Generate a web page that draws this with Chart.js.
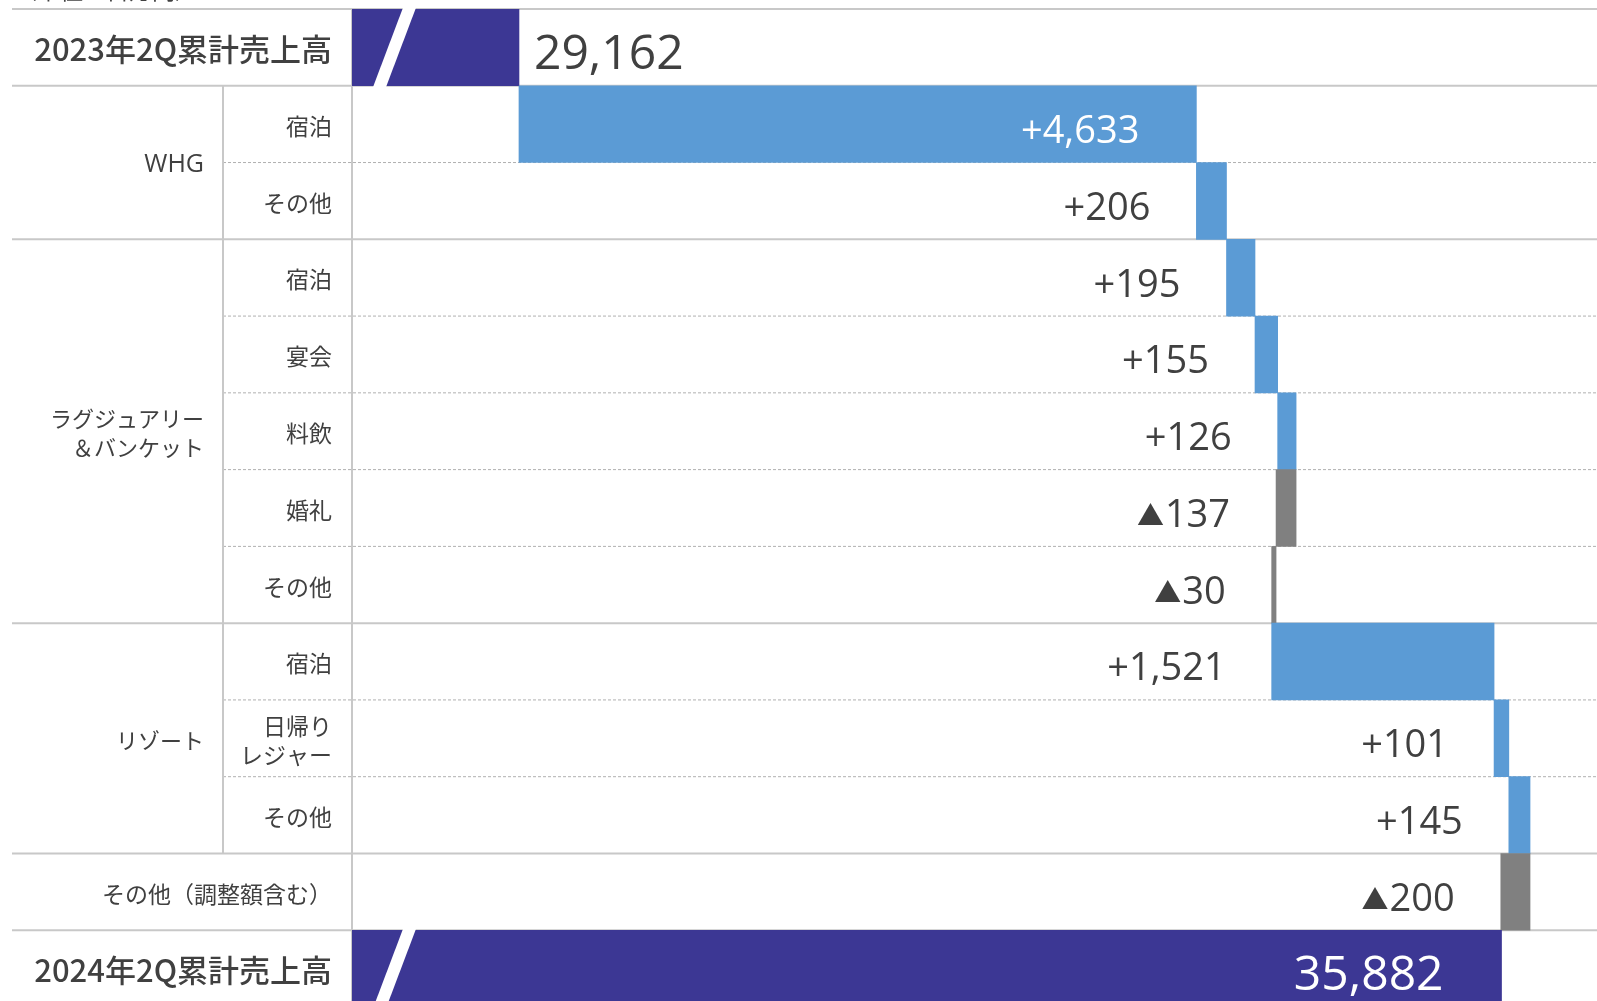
<!DOCTYPE html>
<html>
<head>
<meta charset="utf-8">
<script src="https://cdn.jsdelivr.net/npm/chart.js@4"></script>
<style>
  html, body { margin: 0; padding: 0; background: #ffffff; overflow: hidden; }
  #wrap { position: relative; width: 1597px; height: 1007px; }
</style>
</head>
<body>
<div id="wrap">
  <canvas id="chart" width="1597" height="1007"></canvas>
</div>
<script>
// rows of the waterfall, top to bottom
var categories = ['2023年2Q累計売上高', '宿泊', 'その他', '宿泊', '宴会', '料飲', '婚礼', 'その他',
    '宿泊', '日帰り\nレジャー', 'その他', 'その他（調整額含む）', '2024年2Q累計売上高'];
var groups = ['', 'WHG', 'WHG', 'ラグジュアリー\n＆バンケット', 'ラグジュアリー\n＆バンケット',
    'ラグジュアリー\n＆バンケット', 'ラグジュアリー\n＆バンケット', 'ラグジュアリー\n＆バンケット',
    'リゾート', 'リゾート', 'リゾート', '', ''];
var rowTypes = ['total', 'delta', 'delta', 'delta', 'delta', 'delta', 'delta', 'delta',
    'delta', 'delta', 'delta', 'delta', 'total'];
// 百万円
var values = [29162, 4633, 206, 195, 155, 126, -137, -30, 1521, 101, 145, -200, 35882];
var axisMin = 28020;
var axisMax = 36535;

var NAVY = '#3c3794';
var BLUE = '#5b9bd5';
var GREY = '#808080';
var TEXT = '#404040';
var LINE = '#c8c8c8';
var NUM_FONT = '"Open Sans", "Noto Sans CJK JP"';
var JP_FONT = '"Noto Sans CJK JP"';

// build floating bars from running total
var running = 0;
var barData = [];
var barColors = [];
values.forEach(function (v, i) {
    if (rowTypes[i] === 'total') {
        running = v;
        barData.push(v);
        barColors.push(NAVY);
    } else {
        barData.push([running, running + v]);
        running += v;
        barColors.push(v >= 0 ? BLUE : GREY);
    }
});

function drawMultiline(ctx, text, x, y, lineH) {
    var lines = text.split('\n');
    var y0 = y - (lines.length - 1) * lineH / 2;
    lines.forEach(function (l, k) {
        ctx.fillText(l, x, y0 + k * lineH);
    });
}

// right-aligned delta label, with a smaller ▲ for negatives
function drawDelta(ctx, v, x, y, size) {
    var num = Math.abs(v).toLocaleString('en-US');
    ctx.textAlign = 'right';
    ctx.font = size + 'px ' + NUM_FONT;
    if (v >= 0) {
        ctx.fillText('+' + num, x, y);
        return;
    }
    ctx.fillText(num, x, y);
    var w = ctx.measureText(num).width;
    ctx.font = Math.round(size * 0.72) + 'px ' + JP_FONT;
    ctx.fillText('▲', x - w - 1, y);
}

var tablePlugin = {
    id: 'table',
    beforeDatasetsDraw: function (chart) {
        var ctx = chart.ctx;
        var area = chart.chartArea;
        var yScale = chart.scales.y;
        var n = categories.length;
        var rowH = (yScale.getPixelForValue(1) - yScale.getPixelForValue(0));
        var top = function (i) { return yScale.getPixelForValue(i) - rowH / 2; };
        var colX = 223;
        var rightX = chart.width;

        ctx.save();
        // unit note cut off at the very top
        ctx.fillStyle = TEXT;
        ctx.font = '23px ' + JP_FONT;
        ctx.textAlign = 'left';
        ctx.textBaseline = 'alphabetic';
        ctx.fillText('（単位：百万円）', 14, -1);

        // top border
        ctx.strokeStyle = LINE;
        ctx.lineWidth = 2;
        ctx.beginPath();
        ctx.moveTo(12, top(0));
        ctx.lineTo(rightX, top(0));
        ctx.stroke();

        // horizontal row lines
        for (var i = 0; i < n - 1; i++) {
            var y = top(i + 1);
            var sameGroup = groups[i] !== '' && groups[i] === groups[i + 1];
            ctx.beginPath();
            if (sameGroup) {
                ctx.strokeStyle = '#b0b0b0';
                ctx.lineWidth = 1;
                ctx.setLineDash([3, 2]);
                ctx.moveTo(colX, y);
            } else {
                ctx.strokeStyle = LINE;
                ctx.lineWidth = 2;
                ctx.setLineDash([]);
                ctx.moveTo(12, y);
            }
            ctx.lineTo(rightX, y);
            ctx.stroke();
        }
        ctx.setLineDash([]);

        // vertical separator between group and item columns
        var first = groups.findIndex(function (g) { return g !== ''; });
        var last = groups.length - 1 - groups.slice().reverse().findIndex(function (g) { return g !== ''; });
        ctx.strokeStyle = LINE;
        ctx.lineWidth = 2;
        ctx.beginPath();
        ctx.moveTo(colX, top(first));
        ctx.lineTo(colX, top(last + 1));
        ctx.stroke();

        // left edge of plot
        ctx.beginPath();
        ctx.moveTo(area.left, top(0));
        ctx.lineTo(area.left, area.bottom);
        ctx.stroke();

        // row labels
        ctx.fillStyle = TEXT;
        ctx.textAlign = 'right';
        ctx.textBaseline = 'middle';
        categories.forEach(function (c, i) {
            var yc = yScale.getPixelForValue(i) + 2;
            if (rowTypes[i] === 'total') {
                ctx.font = '500 31px ' + JP_FONT;
                ctx.fillText(c, 332, yc);
            } else {
                ctx.font = '23px ' + JP_FONT;
                drawMultiline(ctx, c, 332, yc, 29);
            }
        });

        // group labels (Latin part in a wider face, like the original)
        ctx.font = '22px "Open Sans", ' + JP_FONT;
        var i = 0;
        while (i < n) {
            if (groups[i] === '') { i++; continue; }
            var j = i;
            while (j + 1 < n && groups[j + 1] === groups[i]) j++;
            var yMid = (top(i) + top(j + 1)) / 2 + 2;
            if (/^[A-Za-z]+$/.test(groups[i])) ctx.font = '25px "Open Sans"';
            else ctx.font = '22px ' + JP_FONT;
            drawMultiline(ctx, groups[i], 204, yMid, 29);
            i = j + 1;
        }
        ctx.restore();
    },
    afterDatasetsDraw: function (chart) {
        var ctx = chart.ctx;
        var meta = chart.getDatasetMeta(0);
        var area = chart.chartArea;
        ctx.save();
        ctx.textBaseline = 'middle';

        meta.data.forEach(function (el, i) {
            var left = Math.max(area.left, Math.min(el.x, el.base));
            var right = Math.min(area.right, Math.max(el.x, el.base));
            var t = el.y - el.height / 2;
            var b = el.y + el.height / 2;
            var yc = el.y + 8;
            var v = values[i];

            if (rowTypes[i] === 'total') {
                // axis break mark
                ctx.fillStyle = '#ffffff';
                ctx.beginPath();
                ctx.moveTo(area.left + 52, t - 4);
                ctx.lineTo(area.left + 65, t - 4);
                ctx.lineTo(area.left + 33, b + 4);
                ctx.lineTo(area.left + 20, b + 4);
                ctx.closePath();
                ctx.fill();

                var txt = v.toLocaleString('en-US');
                ctx.font = '48px ' + NUM_FONT;
                if (right - left > 400) {
                    ctx.fillStyle = '#ffffff';
                    ctx.textAlign = 'right';
                    ctx.fillText(txt, right - 58, yc);
                } else {
                    ctx.fillStyle = TEXT;
                    ctx.textAlign = 'left';
                    ctx.fillText(txt, right + 15, yc);
                }
                return;
            }

            if (right - left > 400) {
                ctx.fillStyle = '#ffffff';
                drawDelta(ctx, v, right - 57, yc, 38);
            } else {
                ctx.fillStyle = TEXT;
                drawDelta(ctx, v, left - 46, yc, 38);
            }
        });
        ctx.restore();
    }
};

var ctx = document.getElementById('chart').getContext('2d');
var myChart = new Chart(ctx, {
    type: 'bar',
    data: {
        labels: categories,
        datasets: [{
            data: barData,
            backgroundColor: barColors,
            borderWidth: 0,
            barPercentage: 1.0,
            categoryPercentage: 1.0
        }]
    },
    options: {
        indexAxis: 'y',
        responsive: false,
        animation: false,
        devicePixelRatio: 1,
        layout: { padding: { left: 352, top: 9, right: 0, bottom: 0 } },
        plugins: {
            legend: { display: false },
            tooltip: { enabled: false }
        },
        scales: {
            x: { type: 'linear', min: axisMin, max: axisMax, display: false },
            y: { display: false }
        }
    },
    plugins: [tablePlugin]
});
</script>
</body>
</html>
